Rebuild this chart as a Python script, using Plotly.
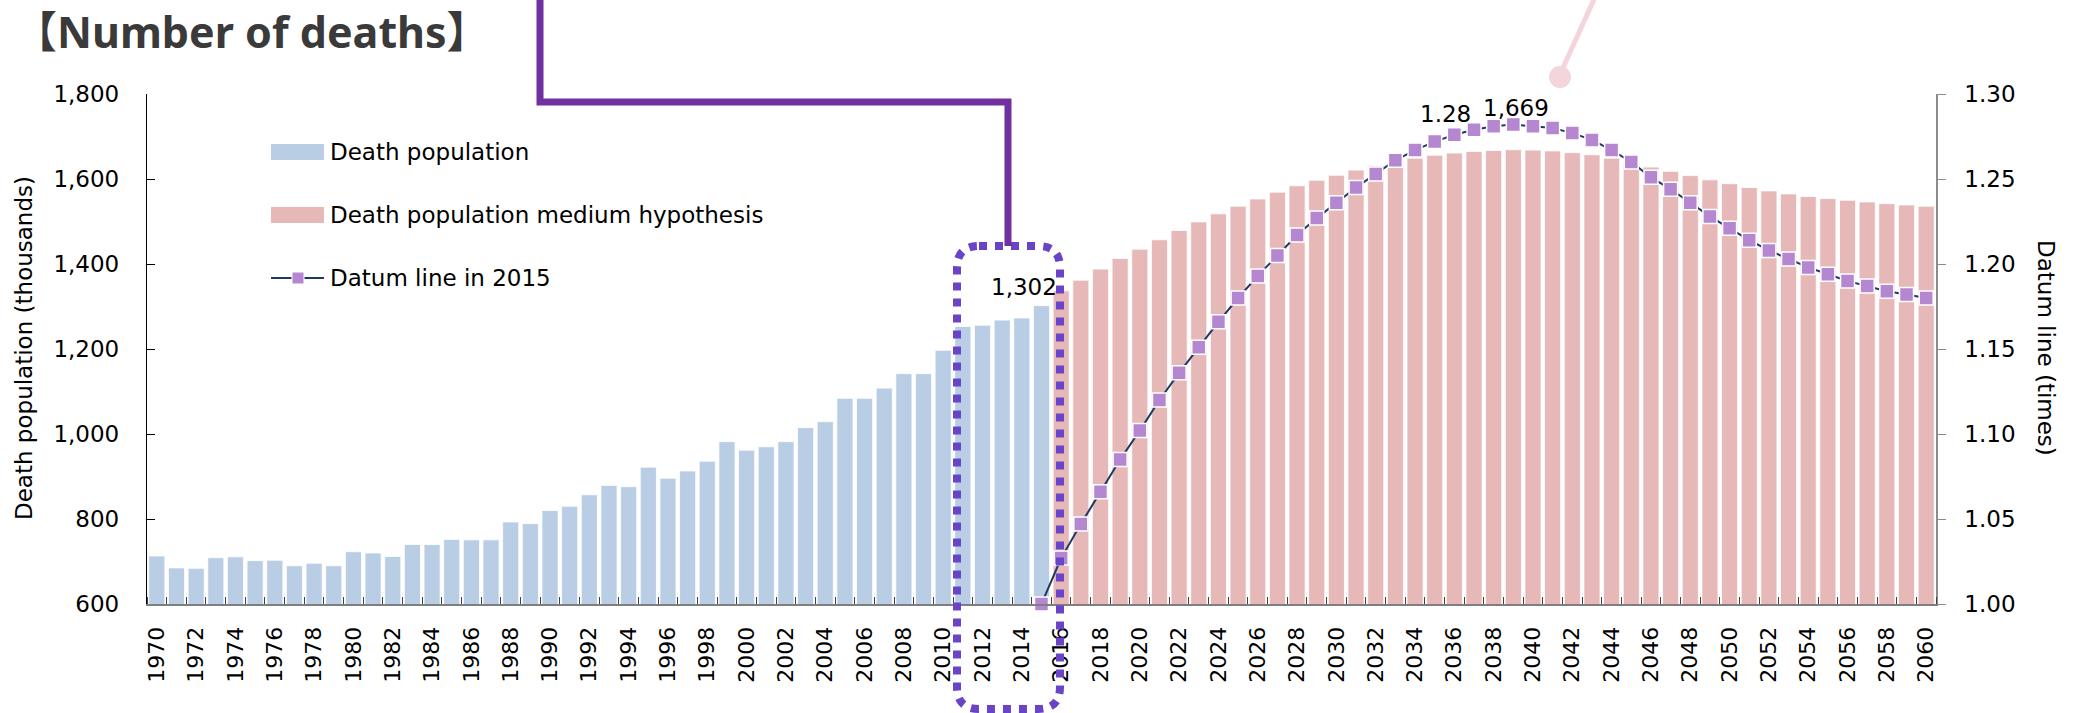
import plotly.graph_objects as go

# ---- data (thousands of deaths; datum ratio relative to 2015) ----
years_actual = list(range(1970, 2016))
deaths_actual = [713, 685, 684, 709, 711, 702, 703, 690, 696, 690,
                 723, 720, 712, 740, 740, 752, 751, 751, 793, 789,
                 820, 830, 857, 879, 876, 922, 896, 913, 936, 982,
                 962, 970, 982, 1015, 1029, 1084, 1084, 1108, 1142, 1142,
                 1197, 1253, 1256, 1268, 1273, 1302]

years_projected = list(range(2016, 2061))
deaths_projected = [1337, 1362, 1388, 1413, 1435, 1457, 1479, 1499, 1518, 1536,
                    1553, 1569, 1584, 1597, 1609, 1621, 1631, 1642, 1649, 1656,
                    1661, 1665, 1667, 1669, 1668, 1666, 1662, 1657, 1649, 1640,
                    1628, 1618, 1608, 1598, 1589, 1580, 1572, 1565, 1559, 1554,
                    1550, 1546, 1542, 1539, 1536]

years_ratio = list(range(2015, 2061))
datum_ratio = [1.000, 1.027, 1.047, 1.066, 1.085, 1.102, 1.120, 1.136, 1.151, 1.166,
               1.180, 1.193, 1.205, 1.217, 1.227, 1.236, 1.245, 1.253, 1.261, 1.267,
               1.272, 1.276, 1.279, 1.281, 1.282, 1.281, 1.280, 1.277, 1.273, 1.267,
               1.260, 1.251, 1.244, 1.236, 1.228, 1.221, 1.214, 1.208, 1.203, 1.198,
               1.194, 1.190, 1.187, 1.184, 1.182, 1.180]

tick_years = list(range(1970, 2061, 2))
tick_labels = [str(y) for y in tick_years]

legend_labels = ["Death population", "Death population medium hypothesis", "Datum line in 2015"]

# ---- style ----
FONT = "DejaVu Sans"
BLUE = "#B9CDE5"
PINK = "#E6B9B8"
NAVY = "#1F3864"
LAVENDER = "#B487D0"
W, H = 2076, 713
L, R, T, B = 147, 1936, 94, 604  # plot area in pixels


def px(x):
    return (x - L) / (R - L)


def py(y):
    return (B - y) / (B - T)


fig = go.Figure()

fig.add_trace(go.Bar(
    x=years_actual, y=deaths_actual, name=legend_labels[0],
    marker=dict(color=BLUE, line=dict(color="white", width=0.8)),
    width=0.82, showlegend=False, hoverinfo="x+y",
))
fig.add_trace(go.Bar(
    x=years_projected, y=deaths_projected, name=legend_labels[1],
    marker=dict(color=PINK, line=dict(color="white", width=0.8)),
    width=0.82, showlegend=False, hoverinfo="x+y",
))
fig.add_trace(go.Scatter(
    x=years_ratio, y=datum_ratio, name=legend_labels[2], yaxis="y2",
    mode="lines+markers",
    line=dict(color=NAVY, width=2),
    marker=dict(symbol="square", size=14, color=LAVENDER,
                line=dict(color="white", width=1.5)),
    cliponaxis=False, showlegend=False,
))

# ---- value labels ----
i_peak = deaths_projected.index(max(deaths_projected))
peak_year = years_projected[i_peak]
r_peak = max(datum_ratio)
r_year = years_ratio[datum_ratio.index(r_peak)]

annotations = [
    dict(x=years_actual[-1], y=deaths_actual[-1], xref="x", yref="y",
         text=f"{deaths_actual[-1]:,}", showarrow=False,
         xshift=-18, yshift=19, font=dict(size=23, color="black", family=FONT)),
    dict(x=peak_year, y=deaths_projected[i_peak], xref="x", yref="y",
         text=f"{deaths_projected[i_peak]:,}", showarrow=False,
         xshift=3, yshift=42, font=dict(size=23, color="black", family=FONT)),
    dict(x=r_year, y=r_peak, xref="x", yref="y2",
         text=f"{r_peak:.2f}", showarrow=False,
         xshift=-68, yshift=11, font=dict(size=23, color="black", family=FONT)),
    # title
    dict(x=px(12), y=py(31), xref="paper", yref="paper", xanchor="left", yanchor="middle",
         text="<b>【Number of deaths】</b>", showarrow=False,
         font=dict(size=43, color="#3A3A3A", family="Noto Sans, Noto Sans CJK JP")),
    # axis titles
    dict(x=px(24), y=py(348), xref="paper", yref="paper", xanchor="center", yanchor="middle",
         text="Death population (thousands)", textangle=-90, showarrow=False,
         font=dict(size=23, color="black", family=FONT)),
    dict(x=px(2046), y=py(348), xref="paper", yref="paper", xanchor="center", yanchor="middle",
         text="Datum line (times)", textangle=90, showarrow=False,
         font=dict(size=23, color="black", family=FONT)),
]

# legend text
legend_y = [152, 215, 278]
for lab, yy in zip(legend_labels, legend_y):
    annotations.append(dict(x=px(328), y=py(yy), xref="paper", yref="paper",
                            xanchor="left", yanchor="middle", text=lab, showarrow=False,
                            font=dict(size=23, color="black", family=FONT)))

shapes = []
# legend swatches
for col, yy in zip([BLUE, PINK], legend_y[:2]):
    shapes.append(dict(type="rect", xref="paper", yref="paper",
                       x0=px(271), x1=px(324), y0=py(yy - 8), y1=py(yy + 8),
                       fillcolor=col, line=dict(width=0)))
shapes.append(dict(type="line", xref="paper", yref="paper",
                   x0=px(271), x1=px(324), y0=py(legend_y[2]), y1=py(legend_y[2]),
                   line=dict(color=NAVY, width=2)))
shapes.append(dict(type="rect", xref="paper", yref="paper",
                   x0=px(292), x1=px(304), y0=py(legend_y[2] - 6), y1=py(legend_y[2] + 6),
                   fillcolor=LAVENDER, line=dict(color="white", width=1)))

# dotted rounded frame around recent actual years
bx0, bx1, by0, by1, rr = 957, 1060, 246, 709, 22


def P(x, y):
    return f"{px(x):.5f},{py(y):.5f}"


frame_path = (f"M {P(bx0 + rr, by0)} L {P(bx1 - rr, by0)} Q {P(bx1, by0)} {P(bx1, by0 + rr)} "
              f"L {P(bx1, by1 - rr)} Q {P(bx1, by1)} {P(bx1 - rr, by1)} "
              f"L {P(bx0 + rr, by1)} Q {P(bx0, by1)} {P(bx0, by1 - rr)} "
              f"L {P(bx0, by0 + rr)} Q {P(bx0, by0)} {P(bx0 + rr, by0)} Z")
shapes.append(dict(type="path", xref="paper", yref="paper", path=frame_path,
                   line=dict(color="#6A44C6", width=8, dash="8px,8px")))

# purple callout connector
callout = f"M {P(540, -10)} L {P(540, 102)} L {P(1008, 102)} L {P(1008, 246)}"
shapes.append(dict(type="path", xref="paper", yref="paper", path=callout,
                   line=dict(color="#7030A0", width=7)))

# pink callout connector
shapes.append(dict(type="line", xref="paper", yref="paper",
                   x0=px(1562), y0=py(70), x1=px(1596), y1=py(-5),
                   line=dict(color="#F3D5DB", width=5)))
shapes.append(dict(type="circle", xref="paper", yref="paper",
                   x0=px(1549), x1=px(1571), y0=py(66), y1=py(88),
                   fillcolor="#F3D5DB", line=dict(width=0)))

fig.update_layout(
    width=W, height=H,
    margin=dict(l=L, r=W - R, t=T, b=H - B, pad=0),
    paper_bgcolor="white", plot_bgcolor="white",
    font=dict(family=FONT, size=22, color="black"),
    barmode="overlay",
    showlegend=False,
    xaxis=dict(
        range=[1969.5, 2060.5], tickmode="array", tickvals=tick_years, ticktext=tick_labels,
        tickangle=-90, ticks="", showgrid=False, zeroline=False,
        showline=True, linecolor="#7F7F7F", linewidth=2,
        tickfont=dict(size=22, color="black", family=FONT),
        ticklabelstandoff=12,
        minor=dict(tickmode="linear", tick0=1969.5, dtick=1, ticks="inside",
                   ticklen=7, tickwidth=1.3, tickcolor="#404040", showgrid=False),
    ),
    yaxis=dict(
        range=[600, 1800], tickmode="linear", tick0=600, dtick=200, tickformat=",",
        ticks="inside", ticklen=8, tickcolor="black", tickwidth=1.3,
        showline=True, linecolor="black", linewidth=1.3,
        showgrid=False, zeroline=False,
        tickfont=dict(size=23, color="black", family=FONT),
        ticklabelstandoff=22,
    ),
    yaxis2=dict(
        range=[1.0, 1.3], tickmode="linear", tick0=1.0, dtick=0.05, tickformat=".2f",
        overlaying="y", side="right", anchor="x",
        ticks="outside", ticklen=8, tickcolor="#8C8C8C", tickwidth=1.3,
        showline=True, linecolor="#8C8C8C", linewidth=1.5,
        showgrid=False, zeroline=False,
        tickfont=dict(size=23, color="black", family=FONT),
        ticklabelstandoff=14,
    ),
    annotations=annotations,
    shapes=shapes,
)

fig.write_html("out.html")
